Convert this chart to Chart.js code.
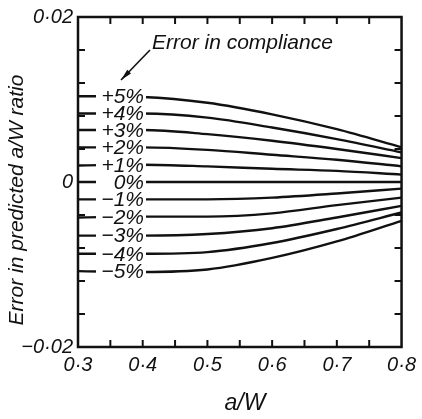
<!DOCTYPE html>
<html>
<head>
<meta charset="utf-8">
<script src="https://cdn.jsdelivr.net/npm/chart.js@4.4.1/dist/chart.umd.min.js"></script>
<style>
  html, body { margin: 0; padding: 0; background: #fff; }
  #wrap { width: 422px; height: 419px; }
</style>
</head>
<body>
<div id="wrap"><canvas id="myChart"></canvas></div>
<script>
// a/W positions where each curve was read
var aW = [0.3, 0.4, 0.5, 0.6, 0.7, 0.8];

// error in predicted a/W ratio for each compliance error
var plus5  = [0.0104, 0.0103, 0.0096, 0.0082, 0.0064, 0.0042];
var plus4  = [0.0083, 0.0083, 0.0078, 0.0066, 0.0052, 0.0036];
var plus3  = [0.0063, 0.0063, 0.0058, 0.0050, 0.0040, 0.0029];
var plus2  = [0.0042, 0.0042, 0.0039, 0.0033, 0.0027, 0.0019];
var plus1  = [0.0020, 0.0021, 0.0019, 0.0016, 0.00135, 0.0009];
var zero   = [0, 0, 0, 0, 0, 0];
var minus1 = [-0.0021, -0.0021, -0.0021, -0.0019, -0.0014, -0.0008];
var minus2 = [-0.0043, -0.0042, -0.0042, -0.0038, -0.0028, -0.0019];
var minus3 = [-0.0065, -0.0065, -0.0063, -0.0056, -0.0043, -0.0029];
var minus4 = [-0.0087, -0.0087, -0.0085, -0.0074, -0.0057, -0.0037];
var minus5 = [-0.0108, -0.0109, -0.0106, -0.0092, -0.0072, -0.0047];

var curveNames = ['+5%', '+4%', '+3%', '+2%', '+1%', '0%', '\u22121%', '\u22122%', '\u22123%', '\u22124%', '\u22125%'];
var curveValues = [plus5, plus4, plus3, plus2, plus1, zero, minus1, minus2, minus3, minus4, minus5];

var yTickLabels = { '0.02': '0\u00b702', '0': '0', '-0.02': '\u22120\u00b702' };

var FONT = '"Liberation Sans", Arial, sans-serif';
var INK = '#111';

function dot(v) {
    return v.toFixed(1).replace('.', '\u00b7');
}

var decorations = {
    id: 'decorations',
    afterDatasetsDraw: function (chart) {
        var ctx = chart.ctx;
        var a = chart.chartArea;
        var y = chart.scales.y;

        // curve labels sit on a white patch that breaks the line
        ctx.save();
        ctx.font = 'italic 21px ' + FONT;
        ctx.textAlign = 'right';
        ctx.textBaseline = 'middle';
        chart.data.datasets.forEach(function (ds) {
            var py = y.getPixelForValue(ds.data[0].y);
            ctx.fillStyle = '#fff';
            ctx.fillRect(a.left + 18, py - 5, 50, 10);
            ctx.fillStyle = INK;
            ctx.fillText(ds.label, a.left + 66, py + 1);
        });
        ctx.restore();
    },
    afterDraw: function (chart) {
        var ctx = chart.ctx;
        var a = chart.chartArea;
        var xs = chart.scales.x;
        var ys = chart.scales.y;

        ctx.save();
        ctx.strokeStyle = INK;
        ctx.lineWidth = 2.5;
        ctx.strokeRect(a.left, a.top, a.right - a.left, a.bottom - a.top);

        // inward tick marks on all four sides
        ctx.lineWidth = 2;
        ctx.beginPath();
        xs.ticks.forEach(function (t) {
            if (t.value <= xs.min + 1e-6 || t.value >= xs.max - 1e-6) return;
            var px = xs.getPixelForValue(t.value);
            ctx.moveTo(px, a.bottom); ctx.lineTo(px, a.bottom - 7);
            ctx.moveTo(px, a.top); ctx.lineTo(px, a.top + 7);
        });
        ys.ticks.forEach(function (t) {
            if (t.value <= ys.min + 1e-6 || t.value >= ys.max - 1e-6) return;
            var py = ys.getPixelForValue(t.value);
            ctx.moveTo(a.left, py); ctx.lineTo(a.left + 7, py);
            ctx.moveTo(a.right, py); ctx.lineTo(a.right - 7, py);
        });
        ctx.stroke();

        ctx.fillStyle = INK;
        ctx.textBaseline = 'middle';

        // axis titles
        ctx.font = 'italic 23px ' + FONT;
        ctx.textAlign = 'center';
        ctx.fillText('a/W', 245, 404);

        ctx.save();
        ctx.translate(17, 200);
        ctx.rotate(-Math.PI / 2);
        ctx.font = 'italic 21px ' + FONT;
        ctx.fillText('Error in predicted a/W ratio', 0, 0);
        ctx.restore();

        // note with arrow pointing at the labels
        ctx.font = 'italic 21px ' + FONT;
        ctx.textAlign = 'left';
        ctx.fillText('Error in compliance', 152, 43);

        var x0 = 150, y0 = 50, x1 = 121, y1 = 80;
        ctx.lineWidth = 1.6;
        ctx.beginPath();
        ctx.moveTo(x0, y0);
        ctx.lineTo(x1, y1);
        ctx.stroke();
        var ang = Math.atan2(y1 - y0, x1 - x0);
        ctx.beginPath();
        ctx.moveTo(x1, y1);
        ctx.lineTo(x1 - 12 * Math.cos(ang - 0.22), y1 - 12 * Math.sin(ang - 0.22));
        ctx.lineTo(x1 - 12 * Math.cos(ang + 0.22), y1 - 12 * Math.sin(ang + 0.22));
        ctx.closePath();
        ctx.fill();
        ctx.restore();
    }
};

var datasets = curveValues.map(function (vals, i) {
    return {
        label: curveNames[i],
        data: aW.map(function (x, j) { return { x: x, y: vals[j] }; }),
        borderColor: INK,
        borderWidth: 2.4,
        pointRadius: 0,
        fill: false,
        cubicInterpolationMode: 'monotone'
    };
});

var ctx = document.getElementById('myChart').getContext('2d');

var chart = new Chart(ctx, {
    type: 'line',
    data: { datasets: datasets },
    options: {
        responsive: true,
        maintainAspectRatio: false,
        animation: false,
        layout: { padding: { top: 12, right: 14, left: 0, bottom: 0 } },
        plugins: {
            legend: { display: false },
            tooltip: { enabled: false }
        },
        scales: {
            x: {
                type: 'linear',
                min: 0.3,
                max: 0.8,
                grid: { display: false, drawTicks: false },
                border: { display: false },
                afterFit: function (scale) { scale.height = 72; },
                ticks: {
                    stepSize: 0.05,
                    autoSkip: false,
                    maxRotation: 0,
                    padding: 6,
                    color: INK,
                    font: { family: FONT, size: 20, style: 'italic' },
                    callback: function (v) {
                        var k = Math.round(v * 100);
                        return k % 10 === 0 ? dot(k / 100) : '';
                    }
                }
            },
            y: {
                min: -0.02,
                max: 0.02,
                grid: { display: false, drawTicks: false },
                border: { display: false },
                afterFit: function (scale) { scale.width = 78; },
                ticks: {
                    stepSize: 0.004,
                    autoSkip: false,
                    padding: 5,
                    color: INK,
                    font: { family: FONT, size: 20, style: 'italic' },
                    callback: function (v) {
                        var key = String(Math.round(v * 1000) / 1000);
                        return yTickLabels[key] || '';
                    }
                }
            }
        }
    },
    plugins: [decorations]
});
</script>
</body>
</html>
